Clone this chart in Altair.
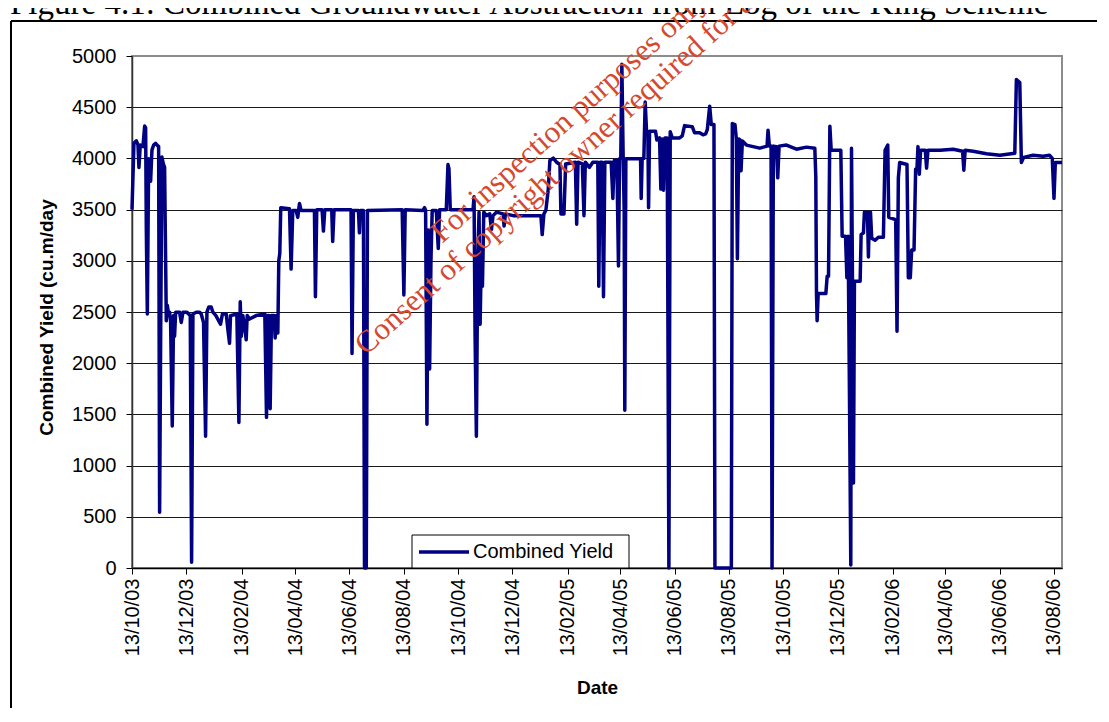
import altair as alt
import pandas as pd

START = "2003-10-13"

# Day offsets from 13/10/03 and combined yield (cu.m/day)
days_a = [0, 2.2, 4.9, 6.7, 7.8, 9.3, 12.3, 14.2, 15.3, 16.1, 17.2, 18.7, 20.9, 22.4, 24.3, 26.5,
          28.0, 29.9, 31.0, 32.2, 33.6, 35.1, 36.6, 38.5, 39.6, 41.1, 42.2, 43.3, 45.2, 46.7, 47.8,
          49.0, 53.4, 55.3, 57.2, 61.7, 63.5, 65.4, 66.9, 68.4, 72.1, 75.9, 77.7, 80.3, 82.6, 84.1,
          86.3, 88.9, 90.8, 94.2, 99.4, 101.5, 105.8, 107.6, 109.5, 110.6, 117.7, 120.0, 121.5,
          122.6, 124.4, 126.3, 128.2, 129.3, 131.9, 139.4, 149.1, 151.0, 152.5, 153.6, 155.1, 156.6,
          159.6, 160.7, 162.2, 163.7, 164.8, 165.9, 167.0, 176.8, 178.6, 180.5, 184.2, 186.1, 188.0,
          189.8, 204.8, 205.9, 207.4, 213.4, 214.9, 216.4, 224.2, 225.3, 226.8, 245.9, 247.0, 248.5]
vals_a = [3500, 4148, 4172, 4131, 3912, 4131, 4115, 4316, 4300, 3290, 2481, 3997, 3778, 4081, 4131, 4148,
          4131, 4115, 545, 2300, 4013, 3950, 3912, 2414, 2566, 2481, 2498, 2414, 1387, 2465, 2263,
          2498, 2498, 2397, 2498, 2498, 2481, 2465, 57, 2481, 2498, 2498, 2481, 2397, 1286, 2498,
          2549, 2549, 2498, 2465, 2380, 2481, 2481, 2330, 2195, 2465, 2481, 1421, 2599,
          2263, 2465, 2364, 2229, 2465, 2431, 2465, 2481, 1471, 2465, 2465, 1556, 2465,
          2465, 2246, 2465, 2296, 3003, 3071, 3519, 3508, 2919, 3492, 3492, 3424, 3560,
          3492, 3492, 2650, 3498, 3498, 3290, 3498, 3498, 3189, 3498, 3498, 2094, 3492]

days_b = [254.2, 255.3, 256.4, 259.8, 261.0, 263.0, 264.3, 303.3, 305.2, 306.7, 326.5, 328.4, 329.6,
          331.1, 332.6, 334.1, 335.6, 337.0, 341.6, 343.8, 345.3, 352.8, 354.7, 355.8, 357.3, 382.8,
          384.0, 385.1, 386.6, 388.1, 389.6, 390.8, 392.3, 393.4, 394.9, 397.8, 401.6, 403.5, 405.3,
          409.1, 416.6, 417.7, 419.2, 427.9, 459.0, 460.5, 462.4, 464.6, 467.3, 469.1, 472.9, 476.6,
          480.4, 481.5, 484.9, 486.8, 497.7, 499.2, 500.7, 505.5, 507.4, 508.9, 513.5, 517.3, 522.9,
          524.0, 525.5, 527.8, 529.3, 530.8, 537.9, 539.8, 541.3, 544.3, 546.1, 547.3]
vals_b = [3492, 3273, 3492, 3492, 0, 0, 3492, 3498, 2667, 3498, 3492, 3519, 3492,
          1404, 3300, 1943, 3000, 3492, 3492, 3121, 3498, 3498, 3940, 3900, 3498, 3498,
          3626, 2296, 1286, 3000, 3475, 2380, 3138, 2751, 3475, 3441, 3458, 3306, 3441,
          3475, 3458, 3340, 3458, 3441, 3441, 3256, 3458, 3492, 3700, 3980, 4003, 3963,
          3940, 3458, 3458, 3946, 3963, 3357, 3963, 3946, 3441, 3963, 3912, 3963, 3963,
          2751, 3963, 3963, 2650, 3963, 3963, 3609, 3980, 3980, 2950, 3997]

days_c = [548.7, 549.9, 551.4, 552.5, 553.2, 554.4, 570.9, 571.6, 572.7, 574.6, 576.1, 577.6, 579.1,
          579.9, 581.0, 587.7, 589.2, 592.2, 593.7, 595.2, 596.7, 598.2, 600.8, 602.7, 604.2, 606.5,
          614.7, 617.7, 620.3, 628.9, 631.6, 637.2, 641.0, 644.0, 645.8, 648.5, 650.3, 653.3, 654.4,
          672.8, 673.9, 676.9, 678.4, 679.6, 681.1, 682.6, 683.7, 685.2, 689.7, 697.2, 704.7, 712.9,
          714.0, 715.5, 717.4, 718.5, 720.0, 723.4, 724.9, 726.4, 734.7, 745.9, 757.1, 766.5, 767.6,
          768.4, 769.1, 770.3, 778.9, 780.4, 781.9, 783.4, 784.9]
vals_c = [3997, 4920, 3997, 3500, 1540, 3997, 3997, 3609, 3997, 4000, 4550, 4270, 4250,
          3519, 4265, 4265, 4180, 4200, 3700, 4190, 3690, 4200, 4200, 0, 4260, 4200,
          4200, 4220, 4320, 4310, 4250, 4250, 4230, 4240, 4280, 4510, 4330, 4330, 0,
          0, 4340, 4330, 4190, 3020, 4190, 4180, 3880, 4170, 4130, 4115, 4100, 4120,
          4276, 4120, 4120, 0, 4120, 4115, 3810, 4120, 4130, 4090, 4110, 4100, 3830,
          2680, 2414, 2680, 2680, 2850, 2850, 4315, 4080]

days_d = [795.7, 797.2, 801.0, 802.5, 803.9, 805.4, 806.9, 807.7, 808.8, 809.9, 811.0, 817.4, 818.5,
          821.1, 822.2, 825.6, 826.7, 827.8, 829.0, 830.4, 834.2, 837.9, 843.5, 845.4, 848.4, 849.5,
          855.5, 857.3, 858.8, 860.3, 861.8, 870.0, 871.5, 873.7, 875.2, 877.9, 879.7, 881.2, 882.3,
          883.8, 885.3, 890.5, 892.0, 893.5, 907.0, 921.9, 932.4, 933.8, 935.3, 944.3, 959.2, 974.2,
          991.0, 992.8, 996.6, 998.4, 1001.0, 1011.5, 1022.7, 1030.1, 1033.1, 1035.0, 1036.5, 1044]
vals_d = [4080, 3240, 3240, 2835, 3240, 1700, 30, 4100, 2800, 830, 2800, 2800, 3255,
          3273, 3475, 3475, 3037, 3475, 3475, 3220, 3200, 3230, 3230, 4080, 4130, 3425,
          3407, 3400, 2313, 3810, 3960, 3940, 2835, 2835, 3105, 3105, 3895, 3900, 4115,
          3845, 4080, 4080, 3905, 4080, 4080, 4090, 4070, 3885, 4080, 4070, 4045, 4030,
          4050, 4770, 4740, 3960, 4010, 4030, 4020, 4030, 4000, 3610, 3960, 3960]

tick_dates = [(2003, 10), (2003, 12), (2004, 2), (2004, 4), (2004, 6), (2004, 8), (2004, 10),
              (2004, 12), (2005, 2), (2005, 4), (2005, 6), (2005, 8), (2005, 10), (2005, 12),
              (2006, 2), (2006, 4), (2006, 6), (2006, 8)]
y_ticks = list(range(0, 5001, 500))
series_name = "Combined Yield"
y_title = "Combined Yield (cu.m/day"
x_title = "Date"
fig_title = "Figure 4.1: Combined Groundwater Abstraction from Log of the King Scheme"
wm_line1 = "For inspection purposes only."
wm_line2 = "Consent of copyright owner required for any other use."

days = days_a + days_b + days_c + days_d
vals = vals_a + vals_b + vals_c + vals_d
assert len(days) == len(vals)

df = pd.DataFrame({"day": days, "value": vals})
ts = pd.Timestamp(START) + pd.to_timedelta(df["day"], unit="D")
df["date"] = ts.dt.strftime("%Y-%m-%dT%H:%M:%SZ")
df = df[["date", "value"]]

SANS = "Liberation Sans"
SERIF = "Liberation Serif"
W, H = 930, 512
WM_COLOR = "#d5492f"

x_enc = alt.X(
    "date:T",
    scale=alt.Scale(type="utc", nice=False,
                    domain=[alt.DateTime(year=2003, month=10, date=13, utc=True),
                            alt.DateTime(year=2006, month=8, date=22, utc=True)]),
    axis=alt.Axis(
        values=[alt.DateTime(year=y, month=m, date=13, utc=True) for y, m in tick_dates],
        labelExpr="utcFormat(datum.value, '%d/%m/%y')",
        labelAngle=270, labelAlign="right", labelBaseline="middle",
        labelFont=SANS, labelFontSize=20, labelColor="black", labelPadding=4,
        labelFlush=False, labelOverlap=False, labelBound=False,
        tickSize=6, tickColor="black", tickWidth=1,
        domainColor="black", domainWidth=1.5, grid=False,
        title=x_title, titleFont=SANS, titleFontSize=19, titleFontWeight="bold",
        titleColor="black", titleX=W / 2, titleY=125, titleAlign="center",
        titleBaseline="alphabetic", titleAnchor="middle"),
)
y_enc = alt.Y(
    "value:Q",
    scale=alt.Scale(domain=[0, 5000], nice=False),
    axis=alt.Axis(
        values=y_ticks, format="d", labelFont=SANS, labelFontSize=20, labelColor="black",
        labelPadding=10, tickSize=6, tickColor="black", tickWidth=1,
        domainColor="#333333", domainWidth=1.5,
        grid=True, gridWidth=1,
        gridColor={"condition": {"test": "datum.value == 5000", "value": "#8c8c8c"},
                   "value": "#1a1a1a"},
        title=y_title, titleFont=SANS, titleFontSize=19, titleFontWeight="bold",
        titleColor="black", titleAngle=270, titleX=-86, titleY=261,
        titleAlign="center", titleBaseline="middle"),
)

line = alt.Chart(df).mark_line(color="#000080", strokeWidth=3.5, strokeJoin="round").encode(
    x=x_enc, y=y_enc)

one = pd.DataFrame({"label": [series_name]})

# outer figure frame (cut by the page at right and bottom)
frame_top = alt.Chart(one).mark_rule(color="black", strokeWidth=2).encode(
    x=alt.value(-121), x2=alt.value(1000), y=alt.value(-35))
frame_left = alt.Chart(one).mark_rule(color="black", strokeWidth=2).encode(
    x=alt.value(-121), y=alt.value(-35), y2=alt.value(700))

title_txt = alt.Chart(pd.DataFrame({"t": [fig_title]})).mark_text(
    font=SERIF, fontSize=33, align="left", baseline="alphabetic", color="black").encode(
    x=alt.value(-122), y=alt.value(-42), text="t:N")

# legend box
leg_box = alt.Chart(one).mark_rect(fill="white", stroke="black", strokeWidth=1).encode(
    x=alt.value(280), x2=alt.value(497), y=alt.value(479), y2=alt.value(512))
leg_line = alt.Chart(one).mark_rule(color="#000080", strokeWidth=3.5).encode(
    x=alt.value(287), x2=alt.value(337), y=alt.value(496))
leg_text = alt.Chart(one).mark_text(
    font=SANS, fontSize=20, align="left", baseline="middle", color="black").encode(
    x=alt.value(341), y=alt.value(496), text="label:N")

wm1 = alt.Chart(pd.DataFrame({"t": [wm_line1]})).mark_text(
    font=SERIF, fontSize=31, angle=318, align="left", baseline="alphabetic",
    color=WM_COLOR).encode(x=alt.value(310), y=alt.value(188), text="t:N")
wm2 = alt.Chart(pd.DataFrame({"t": [wm_line2]})).mark_text(
    font=SERIF, fontSize=31, angle=318, align="left", baseline="alphabetic",
    color=WM_COLOR).encode(x=alt.value(234), y=alt.value(300), text="t:N")

chart = alt.layer(
    frame_top, frame_left, title_txt, line, leg_box, leg_line, leg_text, wm1, wm2
).properties(
    width=W, height=H,
    autosize=alt.AutoSizeParams(type="none"),
    padding={"left": 124, "top": 48, "right": 35, "bottom": 140},
    background="white",
).configure_view(stroke="#8c8c8c", strokeWidth=2)

chart.save("out.html", embed_options={"renderer": "svg", "actions": False})
